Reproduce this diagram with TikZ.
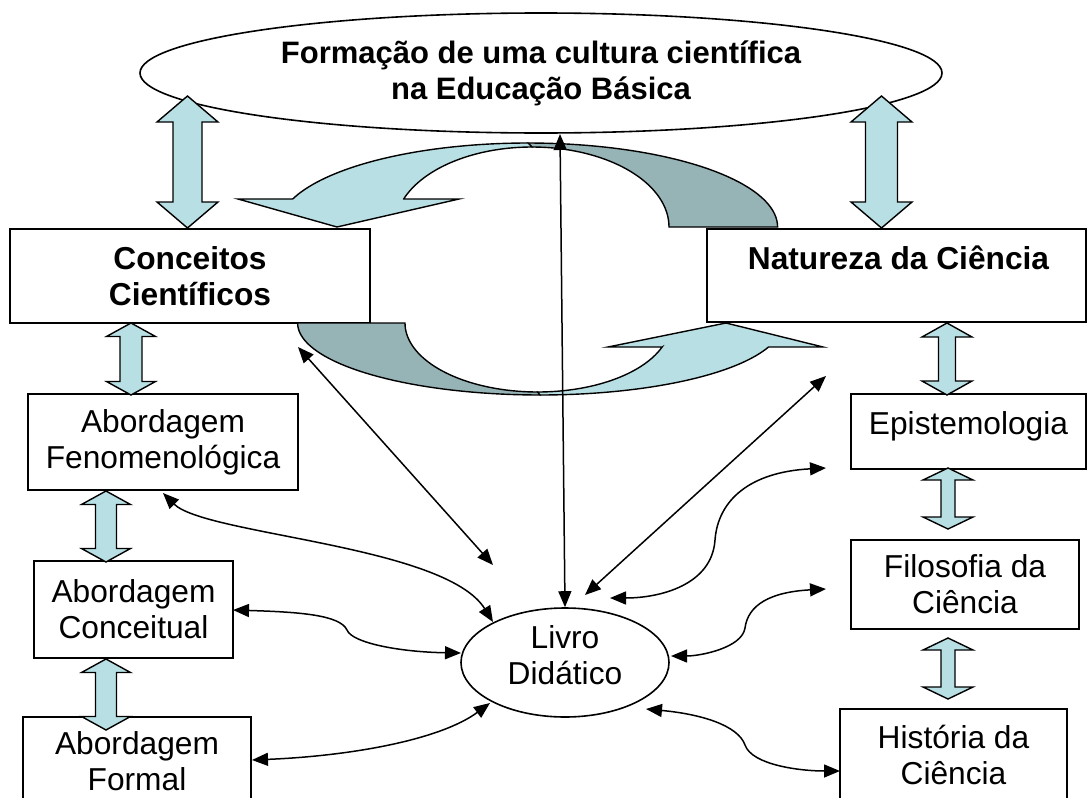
\documentclass[tikz,border=0pt]{standalone}
\usepackage{fontspec}
\setmainfont{Liberation Sans}
\usetikzlibrary{shapes.geometric,arrows.meta}
\definecolor{lcyan}{RGB}{184,223,227}
\definecolor{dgray}{RGB}{150,179,182}
\newcommand\bodyfont{\fontsize{31.7}{36}\selectfont}
\newcommand\titlefont{\fontsize{31}{36}\selectfont\bfseries}
\newcommand\dblarr[6]{%
  \filldraw[blockarr] (#1,#2) -- ({#1+#4},{#2+#6}) -- ({#1+#5},{#2+#6}) -- ({#1+#5},{#3-#6}) -- ({#1+#4},{#3-#6}) -- (#1,#3) -- ({#1-#4},{#3-#6}) -- ({#1-#5},{#3-#6}) -- ({#1-#5},{#2+#6}) -- ({#1-#4},{#2+#6}) -- cycle;}
\begin{document}
\begin{tikzpicture}[x=1pt,y=-1pt,
  box/.style={draw, line width=1.6pt, fill=white, rectangle, inner sep=0pt, align=center, font=\bodyfont},
  ell/.style={draw, line width=1.6pt, fill=white, ellipse, inner sep=0pt, align=center, font=\bodyfont},
  lbl/.style={inner sep=0pt, align=center, font=\bodyfont},
  blockarr/.style={draw, line width=1.4pt, fill=lcyan, line join=miter},
  curvc/.style={draw, line width=1.4pt, fill=lcyan, line join=miter},
  curvg/.style={draw, line width=1.4pt, fill=dgray, line join=miter},
  conn/.style={line width=1.5pt, {Triangle[length=16pt,width=13pt]}-{Triangle[length=16pt,width=13pt]}}]
\clip (0,0) rectangle (1088,798);
% nodes
\node[ell, minimum width=802pt, minimum height=120pt, font=\titlefont] (form) at (541,73) {Formação de uma cultura científica\\na Educação Básica};
\node[box, minimum width=360pt, minimum height=94pt, font=\bodyfont\bfseries] (conc) at (190,276) {Conceitos\\Científicos};
\node[box, minimum width=379pt, minimum height=93pt] (nat) at (896.5,275.5) {};
\node[lbl, font=\bodyfont\bfseries, anchor=base] (natt) at (898.5,269) {Natureza da Ciência};
\node[box, minimum width=270pt, minimum height=96pt] (fen) at (163,442) {Abordagem\\Fenomenológica};
\node[box, minimum width=199pt, minimum height=97pt] (cnc) at (133.5,609.5) {Abordagem\\Conceitual};
\node[box, minimum width=228pt, minimum height=95pt] (fml) at (137,764.5) {};
\node[lbl] (fmlt) at (137,761.5) {Abordagem\\Formal};
\node[box, minimum width=235pt, minimum height=75pt] (epi) at (968.5,431.5) {};
\node[lbl, anchor=base] (epit) at (968.5,434) {Epistemologia};
\node[box, minimum width=228pt, minimum height=89pt] (fil) at (965,584.5) {Filosofia da\\Ciência};
\node[box, minimum width=227pt, minimum height=94pt] (his) at (953.5,756) {};
\node[lbl] (hist) at (953.5,754.5) {História da\\Ciência};
\node[ell, minimum width=208pt, minimum height=109pt] (livro) at (565,662.5) {};
\node[lbl] (livrot) at (565,655) {Livro\\Didático};
% curved block arrows (top)
\filldraw[curvg] plot[domain=270:360, samples=40, variable=\t] ({528+249.6*cos(\t)},{227+84*sin(\t)}) -- plot[domain=360:270, samples=40, variable=\t] ({532+137*cos(\t)},{227+80*sin(\t)}) -- cycle;
\filldraw[curvc] plot[domain=270:199.5, samples=40, variable=\t] ({528+249.6*cos(\t)},{227+84*sin(\t)}) -- (238,199) -- (337,227) -- (459,199) -- (403.7,199) -- plot[domain=200.5:270, samples=40, variable=\t] ({532+137*cos(\t)},{227+80*sin(\t)}) -- cycle;
% curved block arrows (bottom)
\filldraw[curvg] (298,323) -- (405,323) -- plot[domain=180:90, samples=40, variable=\t] ({537.7+132.7*cos(\t)},{323+69*sin(\t)}) -- plot[domain=90:180, samples=40, variable=\t] ({540+242.4*cos(\t)},{323+72*sin(\t)}) -- cycle;
\filldraw[curvc] plot[domain=90:19.5, samples=40, variable=\t] ({540+242.4*cos(\t)},{323+72*sin(\t)}) -- (823,347) -- (726,323) -- (608,347) -- (662.1,347) -- plot[domain=20.35:90, samples=40, variable=\t] ({537.7+132.7*cos(\t)},{323+69*sin(\t)}) -- cycle;
% straight double block arrows
\dblarr{187.5}{96}{228}{30.5}{14.5}{26}
\dblarr{881.5}{96}{228}{30.5}{16}{26}
\dblarr{131}{323}{395}{24.5}{11}{13.5}
\dblarr{106}{491}{562}{24.5}{10.5}{13.5}
\dblarr{106}{659}{730}{24.5}{10.5}{13.5}
\dblarr{947}{323}{395}{25}{8.5}{14}
\dblarr{948}{468}{529}{25}{7}{12}
\dblarr{948}{638}{699}{25}{7}{12}
% connectors
\coordinate (vtop) at (560,134);
\coordinate (c2) at (298,347); \coordinate (l2) at (493,565);
\coordinate (n3) at (826,376); \coordinate (l3) at (585,595);
\coordinate (f4) at (163,493); \coordinate (l4) at (493,622);
\coordinate (a5) at (233,610); \coordinate (l5) at (461,653);
\coordinate (m6) at (252,760); \coordinate (l6) at (490,703);
\coordinate (e7) at (826,468); \coordinate (l7) at (610,598);
\coordinate (p8) at (826,589); \coordinate (l8) at (671,656);
\coordinate (h9) at (840,771); \coordinate (l9) at (646,709);
\draw[conn] (vtop) -- (livro.north);
\draw[conn] (c2) -- (l2);
\draw[conn] (n3) -- (l3);
\draw[conn] (f4) .. controls (205,535) and (445,545) .. (l4);
\draw[conn] (a5) .. controls (300,612) and (340,615) .. (347,630) .. controls (352,643) and (400,652) .. (l5);
\draw[conn] (m6) .. controls (350,756) and (440,740) .. (l6);
\draw[conn] (e7) .. controls (750,472) and (718,500) .. (715,540) .. controls (712,585) and (660,598) .. (l7);
\draw[conn] (p8) .. controls (770,592) and (748,605) .. (745,628) .. controls (742,648) and (700,656) .. (l8);
\draw[conn] (l9) .. controls (700,714) and (738,725) .. (745,745) .. controls (752,765) and (800,771) .. (h9);
\end{tikzpicture}
\end{document}
